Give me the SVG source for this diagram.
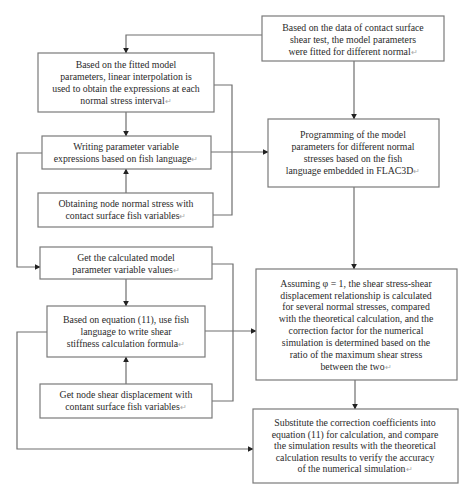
<svg xmlns="http://www.w3.org/2000/svg" width="475" height="500" viewBox="0 0 475 500">
<style>
.box{fill:#fff;stroke:#7a7a7a;stroke-width:1.2}
.t{font-family:"Liberation Serif","Times New Roman",serif;font-size:9.8px;fill:#2a2a2a;text-anchor:middle}
.m{fill:#aaa;font-size:7.5px}
.c{fill:none;stroke:#6e6e6e;stroke-width:1.2}
</style>
<defs>
<marker id="a" viewBox="0 0 10 10" refX="9" refY="5" markerWidth="6" markerHeight="6" orient="auto" markerUnits="userSpaceOnUse">
<path d="M0,0L10,5L0,10z" fill="#222"/>
</marker>
</defs>
<rect width="475" height="500" fill="#fff"/>
<g id="connectors">
<polyline class="c" points="262,35 126,35 126,53" marker-end="url(#a)"/>
<line class="c" x1="354" y1="61" x2="354" y2="119" marker-end="url(#a)"/>
<polyline class="c" points="214,85 232,85 232,215 213,215"/>
<line class="c" x1="126" y1="112" x2="126" y2="136" marker-end="url(#a)"/>
<line class="c" x1="211" y1="152" x2="268" y2="152" marker-end="url(#a)"/>
<line class="c" x1="126" y1="193" x2="126" y2="169" marker-end="url(#a)"/>
<polyline class="c" points="42,153 17,153 17,267 40,267" marker-end="url(#a)"/>
<line class="c" x1="354" y1="187" x2="354" y2="269" marker-end="url(#a)"/>
<polyline class="c" points="212,264 233,264 233,401 212,401"/>
<line class="c" x1="126" y1="279" x2="126" y2="306" marker-end="url(#a)"/>
<line class="c" x1="205" y1="331" x2="256" y2="331" marker-end="url(#a)"/>
<line class="c" x1="126" y1="384" x2="126" y2="357" marker-end="url(#a)"/>
<polyline class="c" points="47,332 17,332 17,449 253,449" marker-end="url(#a)"/>
<line class="c" x1="355" y1="380" x2="355" y2="409" marker-end="url(#a)"/>
</g>
<g id="n1">
<rect class="box" x="262" y="16" width="182" height="45"/>
<text class="t" x="353" y="30.5">Based on the data of contact surface</text>
<text class="t" x="353" y="42.5">shear test, the model parameters</text>
<text class="t" x="353" y="54.5">were fitted for different normal<tspan class="m">↵</tspan></text>
</g>
<g id="n2">
<rect class="box" x="38" y="53" width="176" height="59"/>
<text class="t" x="126" y="67.5">Based on the fitted model</text>
<text class="t" x="126" y="80">parameters, linear interpolation is</text>
<text class="t" x="126" y="92">used to obtain the expressions at each</text>
<text class="t" x="126" y="104">normal stress interval<tspan class="m">↵</tspan></text>
</g>
<g id="n3">
<rect class="box" x="42" y="136" width="169" height="33"/>
<text class="t" x="126" y="149.5">Writing parameter variable</text>
<text class="t" x="126" y="161.5">expressions based on fish language<tspan class="m">↵</tspan></text>
</g>
<g id="n4">
<rect class="box" x="268" y="119" width="171" height="68"/>
<text class="t" x="353" y="137.5">Programming of the model</text>
<text class="t" x="353" y="149.5">parameters for different normal</text>
<text class="t" x="353" y="161.5">stresses based on the fish</text>
<text class="t" x="353" y="174">language embedded in FLAC3D<tspan class="m">↵</tspan></text>
</g>
<g id="n5">
<rect class="box" x="38" y="193" width="175" height="34"/>
<text class="t" x="126" y="206.5">Obtaining node normal stress with</text>
<text class="t" x="126" y="219">contact surface fish variables<tspan class="m">↵</tspan></text>
</g>
<g id="n6">
<rect class="box" x="40" y="247" width="172" height="32"/>
<text class="t" x="126" y="260.5">Get the calculated model</text>
<text class="t" x="126" y="273">parameter variable values<tspan class="m">↵</tspan></text>
</g>
<g id="n7">
<rect class="box" x="47" y="306" width="158" height="51"/>
<text class="t" x="126" y="323">Based on equation (11), use fish</text>
<text class="t" x="126" y="334.5">language to write shear</text>
<text class="t" x="126" y="346.5">stiffness calculation formula<tspan class="m">↵</tspan></text>
</g>
<g id="n8">
<rect class="box" x="256" y="269" width="201" height="111"/>
<text class="t" x="356" y="286.5">Assuming φ = 1, the shear stress-shear</text>
<text class="t" x="356" y="298.5">displacement relationship is calculated</text>
<text class="t" x="356" y="310">for several normal stresses, compared</text>
<text class="t" x="356" y="322">with the theoretical calculation, and the</text>
<text class="t" x="356" y="334">correction factor for the numerical</text>
<text class="t" x="356" y="345.5">simulation is determined based on the</text>
<text class="t" x="356" y="357.5">ratio of the maximum shear stress</text>
<text class="t" x="356" y="369.5">between the two<tspan class="m">↵</tspan></text>
</g>
<g id="n9">
<rect class="box" x="40" y="384" width="172" height="34"/>
<text class="t" x="126" y="397.5">Get node shear displacement with</text>
<text class="t" x="126" y="410">contant surface fish variables<tspan class="m">↵</tspan></text>
</g>
<g id="n10">
<rect class="box" x="253" y="409" width="205" height="74"/>
<text class="t" x="355" y="426">Substitute the correction coefficients into</text>
<text class="t" x="355" y="437.5">equation (11) for calculation, and compare</text>
<text class="t" x="355" y="449">the simulation results with the theoretical</text>
<text class="t" x="355" y="460.5">calculation results to verify the accuracy</text>
<text class="t" x="355" y="472">of the numerical simulation<tspan class="m">↵</tspan></text>
</g>
</svg>
